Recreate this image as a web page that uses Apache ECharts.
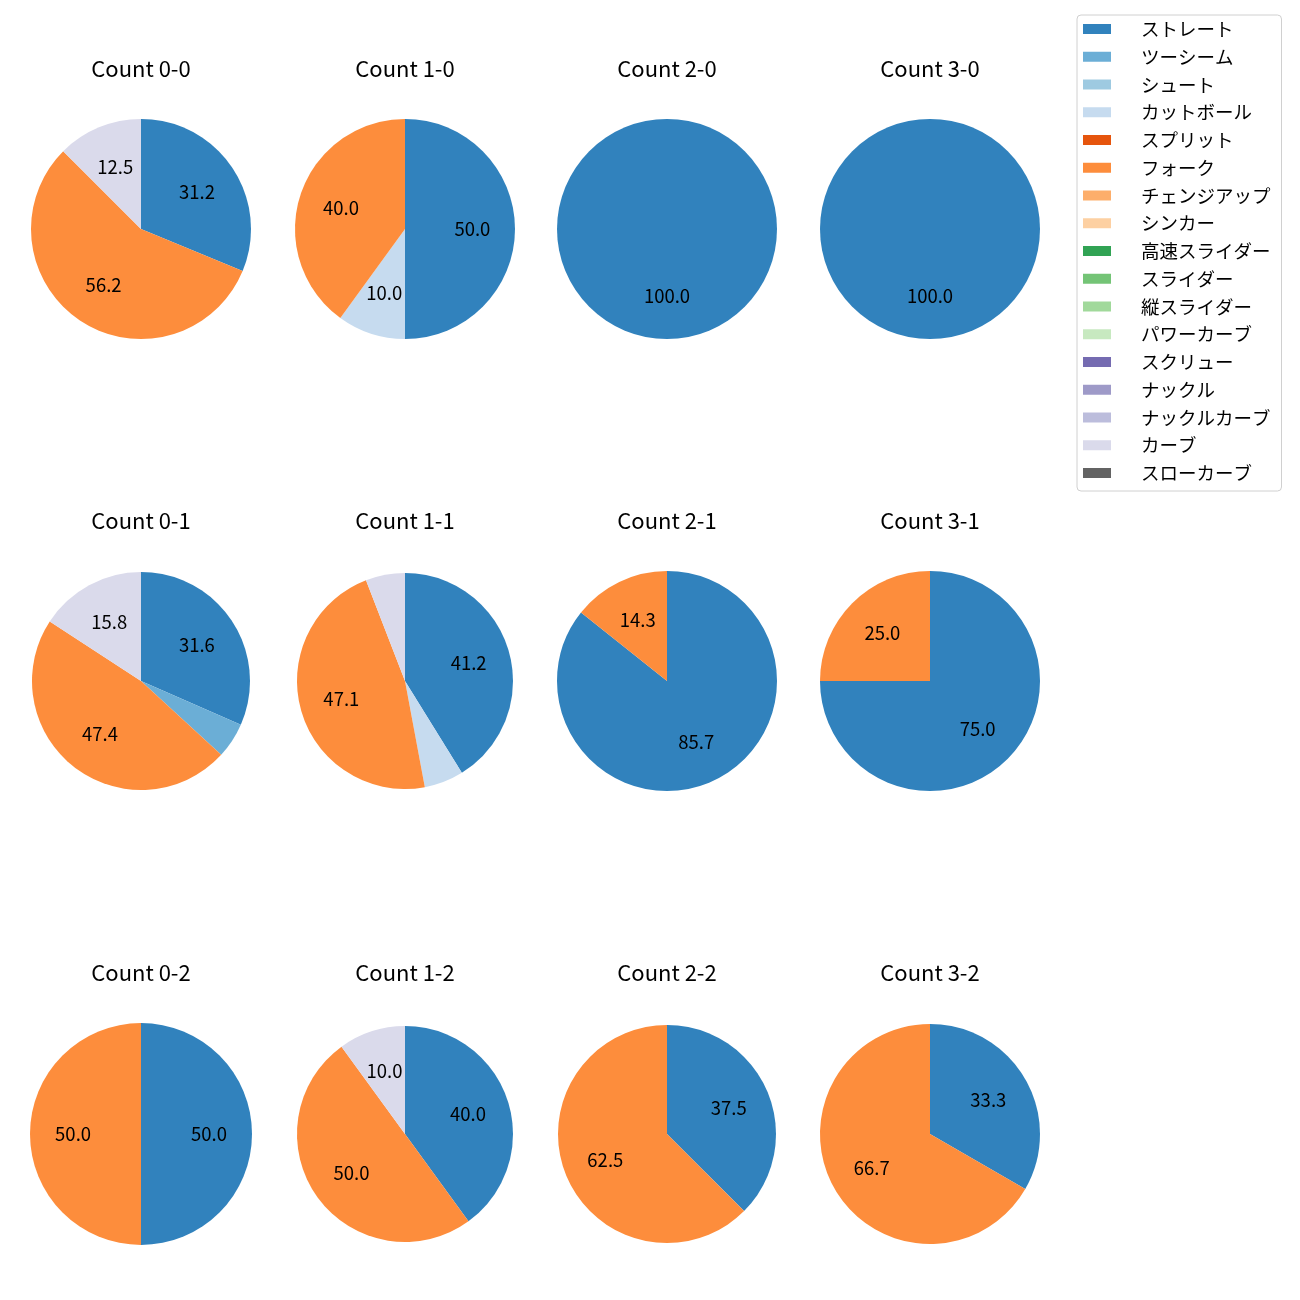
<!DOCTYPE html>
<html><head><meta charset="utf-8">
<script src="https://cdn.jsdelivr.net/npm/echarts@6/dist/echarts.min.js"></script>
<style>html,body{margin:0;padding:0;background:#fff}#c{width:1300px;height:1300px}</style>
</head><body><div id="c"></div>
<script>
const pitchTypes = ['ストレート','ツーシーム','シュート','カットボール','スプリット','フォーク','チェンジアップ','シンカー','高速スライダー','スライダー','縦スライダー','パワーカーブ','スクリュー','ナックル','ナックルカーブ','カーブ','スローカーブ'];
const pitchColors = ['#3182bd','#6baed6','#9ecae1','#c6dbef','#e6550d','#fd8d3c','#fdae6b','#fdd0a2','#31a354','#74c476','#a1d99b','#c7e9c0','#756bb1','#9e9ac8','#bcbddc','#dadaeb','#636363'];
const countLabels = ['Count 0-0','Count 1-0','Count 2-0','Count 3-0','Count 0-1','Count 1-1','Count 2-1','Count 3-1','Count 0-2','Count 1-2','Count 2-2','Count 3-2'];
// pitch counts per count, in pitchTypes order
const c00 = [5,0,0,0,0,9,0,0,0,0,0,0,0,0,0,2,0];
const c10 = [5,0,0,1,0,4,0,0,0,0,0,0,0,0,0,0,0];
const c20 = [1,0,0,0,0,0,0,0,0,0,0,0,0,0,0,0,0];
const c30 = [1,0,0,0,0,0,0,0,0,0,0,0,0,0,0,0,0];
const c01 = [6,1,0,0,0,9,0,0,0,0,0,0,0,0,0,3,0];
const c11 = [7,0,0,1,0,8,0,0,0,0,0,0,0,0,0,1,0];
const c21 = [6,0,0,0,0,1,0,0,0,0,0,0,0,0,0,0,0];
const c31 = [3,0,0,0,0,1,0,0,0,0,0,0,0,0,0,0,0];
const c02 = [1,0,0,0,0,1,0,0,0,0,0,0,0,0,0,0,0];
const c12 = [4,0,0,0,0,5,0,0,0,0,0,0,0,0,0,1,0];
const c22 = [3,0,0,0,0,5,0,0,0,0,0,0,0,0,0,0,0];
const c32 = [1,0,0,0,0,2,0,0,0,0,0,0,0,0,0,0,0];
const allCounts = [c00,c10,c20,c30,c01,c11,c21,c31,c02,c12,c22,c32];

// layout
const colX = [141, 405, 667, 930];
const rowY = [229, 681, 1134];
const titleY = [58, 510, 962];
const radii = [110,110,110,110, 109,108,110,110, 111,108,109,110];

function fmtPct(p) {
  const x = p * 10;
  const f = Math.floor(x);
  let n;
  if (Math.abs(x - f - 0.5) < 1e-9) n = (f % 2 === 0) ? f : f + 1;
  else n = Math.round(x);
  return (n / 10).toFixed(1);
}

const FONT = 'Noto Sans CJK JP';
const titles = [];
const series = [];
allCounts.forEach((vals, i) => {
  const col = i % 4, row = Math.floor(i / 4);
  const cx = colX[col], cy = rowY[row], r = radii[i];
  titles.push({
    text: countLabels[i], left: cx, top: titleY[row], textAlign: 'center', padding: 0,
    textStyle: {fontSize: 22, lineHeight: 22, fontWeight: 'normal', color: '#000', fontFamily: FONT}
  });
  const data = pitchTypes.map((n, k) => ({name: n, value: vals[k], itemStyle: {color: pitchColors[k]}}));
  series.push({
    type: 'pie', center: [cx, cy], radius: [0, r], startAngle: 90, clockwise: true,
    data: data, label: {show: false}, labelLine: {show: false}, silent: true,
    emphasis: {disabled: true}, animation: false, avoidLabelOverlap: false,
    itemStyle: {borderWidth: 0}
  });
});
allCounts.forEach((vals, i) => {
  const col = i % 4, row = Math.floor(i / 4);
  const cx = colX[col], cy = rowY[row], r = radii[i];
  const total = vals.reduce((a, b) => a + b, 0);
  const data = pitchTypes.map((n, k) => ({name: n, value: vals[k], itemStyle: {color: 'rgba(0,0,0,0)'}}));
  series.push({
    type: 'pie', center: [cx, cy], radius: [0, r * 1.17], startAngle: 90, clockwise: true,
    data: data, silent: true, legendHoverLink: false, emphasis: {disabled: true},
    animation: false, avoidLabelOverlap: false, labelLine: {show: false},
    label: {
      show: true, position: 'inside', color: '#000', fontSize: 18.5, fontFamily: FONT,
      formatter: (p) => {
        const pct = p.value / total * 100;
        return pct >= 9.995 ? fmtPct(pct) : '';
      }
    }
  });
});

const chart = echarts.init(document.getElementById('c'), null, {renderer: 'canvas'});
chart.setOption({
  backgroundColor: '#fff',
  animation: false,
  title: titles,
  legend: {
    orient: 'vertical', left: 1077, top: 15,
    data: pitchTypes,
    itemWidth: 28, itemHeight: 10, itemGap: 8.75,
    icon: 'rect',
    padding: [4.5, 11, 8.5, 6],
    borderColor: '#d0d0d0', borderWidth: 1, borderRadius: 4,
    backgroundColor: 'rgba(255,255,255,0.8)',
    selectedMode: false,
    textStyle: {fontSize: 18.5, lineHeight: 19, color: '#000', fontFamily: FONT, padding: [0, 0, 0, 25]}
  },
  series: series
});
</script></body></html>
